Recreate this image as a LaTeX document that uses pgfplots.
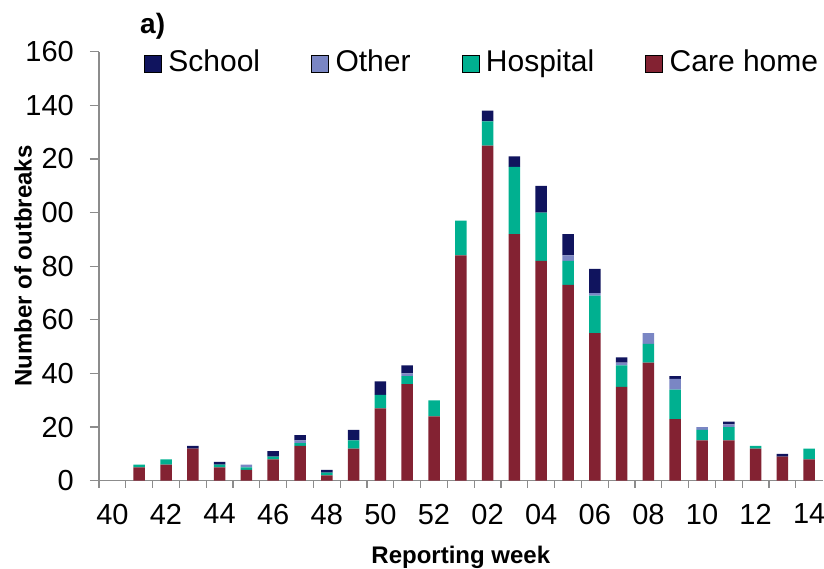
\documentclass[border=0pt]{standalone}
\usepackage{fontspec}
\setmainfont{Liberation Sans}
\usepackage{pgfplots}
\pgfplotsset{compat=1.18}
\usepackage{pgfplotstable}

\definecolor{carehome}{RGB}{131,34,50}
\definecolor{hospital}{RGB}{0,176,144}
\definecolor{other}{RGB}{122,134,196}
\definecolor{school}{RGB}{16,20,94}
\definecolor{axisgray}{RGB}{140,140,140}

% slot index 0 = week 40 ... 12 = week 52, 13 = week 01 ... 26 = week 14
\pgfplotstableread{
idx care hosp other school
0   0   0  0 0
1   5   1  0 0
2   6   2  0 0
3   12  0  0 1
4   5   1  0 1
5   4   1  1 0
6   8   1  0 2
7   13  1  1 2
8   2   1  0 1
9   12  3  0 4
10  27  5  0 5
11  36  3  1 3
12  24  6  0 0
13  84  13 0 0
14  125 9  0 4
15  92  25 0 4
16  82  18 0 10
17  73  9  2 8
18  55  14 1 9
19  35  8  1 2
20  44  7  4 0
21  23  11 4 1
22  15  4  1 0
23  15  5  1 1
24  12  1  0 0
25  9   0  0 1
26  8   4  0 0
}\outbreaks

\begin{document}
\begin{tikzpicture}
\useasboundingbox (0,0) rectangle (824pt,568pt);
\begin{axis}[
    at={(99pt,87.3pt)}, anchor=south west,
    scale only axis,
    width=723.6pt, height=429pt,
    xmin=-0.5, xmax=26.5,
    ymin=0, ymax=160,
    ybar stacked,
    bar width=11.5pt,
    axis lines*=left,
    axis line style={draw=axisgray, line width=1.3pt},
    tick align=outside,
    major tick length=9pt,
    minor tick length=7pt,
    tick style={draw=axisgray, line width=1.3pt},
    xtick={0,2,...,26},
    xticklabels={40,42,44,46,48,50,52,02,04,06,08,10,12,14},
    major x tick style={draw=none},
    minor xtick={-0.5,0.5,...,25.5},
    ytick={0,20,...,160},
    /pgf/number format/assume math mode=true,
    ticklabel style={font=\fontsize{29}{29}\selectfont},
    yticklabel style={inner sep=0pt, xshift=-16pt},
    xticklabel style={inner sep=0pt, yshift=-14pt},
    xlabel={Reporting week},
    ylabel={Number of outbreaks},
    label style={font=\bfseries\fontsize{24}{24}\selectfont, inner sep=0pt},
    xlabel style={at={(axis description cs:0.5,0)}, anchor=base, yshift=-82.3pt},
    ylabel style={at={(axis description cs:0,0.5)}, anchor=base,
        yshift=67.3pt, fill=white, inner xsep=5pt, inner ysep=9.5pt},
    legend columns=4,
    legend style={draw=none, fill=none, inner sep=0pt, outer sep=0pt,
        at={(0.0622,0.972)}, anchor=west,
        font=\fontsize{30}{30}\selectfont,
        nodes={text height=22pt, text depth=6pt, inner sep=0pt},
        /tikz/every odd column/.style={column sep=7pt},
        /tikz/every even column/.style={column sep=51pt}},
    legend image code/.code={\fill[#1] (0pt,-8pt) rectangle (17pt,9pt);},
]
\addlegendimage{fill=school}
\addlegendentry{School}
\addlegendimage{fill=other}
\addlegendentry{Other}
\addlegendimage{fill=hospital}
\addlegendentry{Hospital}
\addlegendimage{fill=carehome}
\addlegendentry{Care home}

\addplot[fill=carehome, draw=none, forget plot] table[x=idx, y=care] {\outbreaks};
\addplot[fill=hospital, draw=none, forget plot] table[x=idx, y=hosp] {\outbreaks};
\addplot[fill=other, draw=none, forget plot] table[x=idx, y=other] {\outbreaks};
\addplot[fill=school, draw=none, forget plot] table[x=idx, y=school] {\outbreaks};
\end{axis}
\node[anchor=base west, inner sep=0pt, font=\bfseries\fontsize{28}{28}\selectfont]
    at (140pt,534.5pt) {a)};
\end{tikzpicture}
\end{document}
